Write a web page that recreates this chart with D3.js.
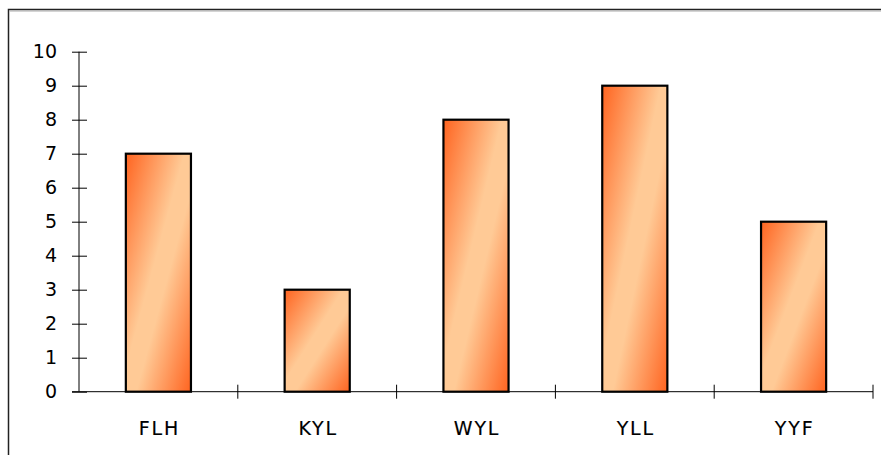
<!DOCTYPE html>
<html lang="en">
<head>
<meta charset="utf-8">
<title>Bar chart</title>
<style>
body { margin: 0; background: #fff; }
svg { display: block; }
.yAxis text { font: 19px "DejaVu Sans", sans-serif; fill: #000; }
.xAxis text { font: 19px "DejaVu Sans", sans-serif; fill: #000; stroke: #000; stroke-width: 0.15px; letter-spacing: 1.8px; }
</style>
</head>
<body>
<div id="chart"></div>
<script src="https://d3js.org/d3.v7.min.js"></script>
<script>
// chart data
var names = ['FLH', 'KYL', 'WYL', 'YLL', 'YYF'];
var counts = [7, 3, 8, 9, 5];
var yTicks = [0, 1, 2, 3, 4, 5, 6, 7, 8, 9, 10];

var W = 881, H = 455;
var plotLeft = 79, plotRight = 873, plotTop = 51.7, plotBottom = 391.7;

var svg = d3.select('#chart').append('svg')
  .attr('width', W)
  .attr('height', H);

// gradient for the bars (dark corners, light diagonal)
var grad = svg.append('defs').append('linearGradient')
  .attr('id', 'barGrad')
  .attr('x1', 0).attr('y1', 0)
  .attr('x2', 1).attr('y2', 1);
grad.append('stop').attr('offset', '0%').attr('stop-color', '#ff6420');
grad.append('stop').attr('offset', '45%').attr('stop-color', '#ffca96');
grad.append('stop').attr('offset', '58%').attr('stop-color', '#ffca96');
grad.append('stop').attr('offset', '100%').attr('stop-color', '#ff6420');

// outer frame, only top and left edges show
svg.append('rect')
  .attr('x', 8.5).attr('y', 9.5)
  .attr('width', W).attr('height', H)
  .attr('fill', 'none')
  .attr('stroke', '#222')
  .attr('stroke-width', 1.5);
svg.append('line')
  .attr('x1', 9.5).attr('x2', W).attr('y1', 11).attr('y2', 11)
  .attr('stroke', '#aaa');

var x = d3.scaleBand()
  .domain(names)
  .range([plotLeft, plotRight])
  .paddingInner(0.59)
  .paddingOuter(0.295);

var y = d3.scaleLinear()
  .domain([0, 10])
  .range([plotBottom, plotTop]);

// bars
svg.selectAll('rect.bar')
  .data(names)
  .enter()
  .append('rect')
  .attr('class', 'bar')
  .attr('x', function(d) { return x(d); })
  .attr('y', function(d, i) { return y(counts[i]); })
  .attr('width', x.bandwidth())
  .attr('height', function(d, i) { return plotBottom - y(counts[i]); })
  .attr('fill', 'url(#barGrad)')
  .attr('stroke', '#000')
  .attr('stroke-width', 2.2);

// y axis, ticks cross the line
var yAxis = svg.append('g')
  .attr('class', 'yAxis')
  .attr('transform', 'translate(' + plotLeft + ',0)')
  .call(d3.axisLeft(y).tickValues(yTicks).tickSize(0).tickPadding(22));
yAxis.select('.domain').remove();
yAxis.append('line')
  .attr('x1', 0).attr('x2', 0)
  .attr('y1', plotTop).attr('y2', plotBottom)
  .attr('stroke', '#000');
yAxis.selectAll('.tick').append('line')
  .attr('x1', -7).attr('x2', 8)
  .attr('stroke', '#000');

// x axis
var xAxis = svg.append('g')
  .attr('class', 'xAxis')
  .attr('transform', 'translate(0,' + plotBottom + ')')
  .call(d3.axisBottom(x).tickSize(0).tickPadding(30));
xAxis.select('.domain').remove();
xAxis.selectAll('.tick text').attr('dx', '1');
xAxis.append('line')
  .attr('x1', plotLeft - 7).attr('x2', plotRight)
  .attr('stroke', '#000');
var bounds = names.map(function(d) { return x(d) + x.bandwidth() + x.step() * 0.295; });
xAxis.selectAll('line.sep')
  .data(bounds)
  .enter()
  .append('line')
  .attr('class', 'sep')
  .attr('x1', function(d) { return d; })
  .attr('x2', function(d) { return d; })
  .attr('y1', -7).attr('y2', 7)
  .attr('stroke', '#000');
</script>
</body>
</html>
